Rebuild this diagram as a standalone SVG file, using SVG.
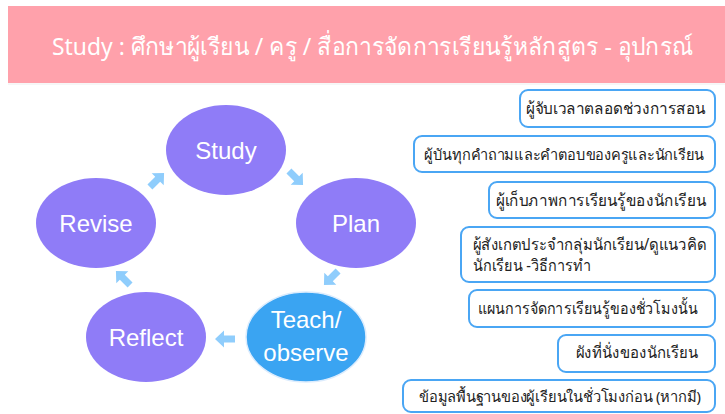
<svg xmlns="http://www.w3.org/2000/svg" width="725" height="414" viewBox="0 0 725 414">
<defs>
<style>
.hdr{fill:#ffa1ab}
.title{font-family:"Noto Sans","Liberation Sans",sans-serif;font-size:24px;fill:#ffffff}
.stage{fill:#8f7cf7}
.teach{fill:#3aa4f2;stroke:#dcecfd;stroke-width:1.5}
.lbl{font-family:"Liberation Sans",Arial,sans-serif;font-size:24px;fill:#ffffff;text-anchor:middle}
.box{fill:#ffffff;stroke:#4aa6f4;stroke-width:2}
.bt{font-family:"Noto Sans","DejaVu Sans",sans-serif;font-size:16px;fill:#222222;text-anchor:middle}
.bl{font-family:"Noto Sans","DejaVu Sans",sans-serif;font-size:16px;fill:#222222}
.sm{font-size:15px}
.arr{fill:#8fcdfc}
</style>
<path id="ar" d="M-10,-3.5 L1,-3.5 L1,-8.5 L10,0 L1,8.5 L1,3.5 L-10,3.5 Z"/>
</defs>
<rect class="hdr" x="8" y="6" width="717" height="77"/>
<line x1="8" y1="84" x2="725" y2="84" stroke="#eeeeee" stroke-width="1"/>
<text class="title" x="52" y="55" textLength="641" lengthAdjust="spacingAndGlyphs">Study : ศึกษาผู้เรียน / ครู / สื่อการจัดการเรียนรู้หลักสูตร - อุปกรณ์</text>

<g id="study"><ellipse class="stage" cx="226" cy="150" rx="60" ry="45"/><text class="lbl" x="226" y="159">Study</text></g>
<g id="plan"><ellipse class="stage" cx="356" cy="223" rx="60" ry="45"/><text class="lbl" x="356" y="232">Plan</text></g>
<g id="teach"><ellipse class="teach" cx="306" cy="337" rx="60" ry="45"/><text class="lbl" x="306" y="328">Teach/</text><text class="lbl" x="306" y="361">observe</text></g>
<g id="reflect"><ellipse class="stage" cx="146" cy="337" rx="60" ry="45"/><text class="lbl" x="146" y="346">Reflect</text></g>
<g id="revise"><ellipse class="stage" cx="96" cy="223" rx="60" ry="45"/><text class="lbl" x="96" y="232">Revise</text></g>

<g id="connectors" class="arr">
<use href="#ar" transform="translate(157,180) rotate(-45)"/>
<use href="#ar" transform="translate(296,178) rotate(45)"/>
<use href="#ar" transform="translate(331,278) rotate(135)"/>
<use href="#ar" transform="translate(225,339) rotate(180)"/>
<use href="#ar" transform="translate(123,278) rotate(-135)"/>
</g>

<g id="n1"><rect class="box" x="520" y="90" width="195" height="37" rx="8"/><text class="bt" x="616" y="114" textLength="180" lengthAdjust="spacingAndGlyphs">ผู้จับเวลาตลอดช่วงการสอน</text></g>
<g id="n2"><rect class="box" x="414" y="136" width="301" height="36" rx="8"/><text class="bt sm" x="564" y="160" textLength="280" lengthAdjust="spacingAndGlyphs">ผู้บันทุกคำถามและคำตอบของครูและนักเรียน</text></g>
<g id="n3"><rect class="box" x="489" y="182" width="226" height="36" rx="8"/><text class="bt" x="601" y="206" textLength="210" lengthAdjust="spacingAndGlyphs">ผู้เก็บภาพการเรียนรู้ของนักเรียน</text></g>
<g id="n4"><rect class="box" x="461" y="227" width="254" height="55" rx="8"/><text class="bl" x="473" y="250" textLength="233" lengthAdjust="spacingAndGlyphs">ผู้สังเกตประจำกลุ่มนักเรียน/ดูแนวคิด</text><text class="bl" x="473" y="271" textLength="118" lengthAdjust="spacingAndGlyphs">นักเรียน -วิธีการทำ</text></g>
<g id="n5"><rect class="box" x="469" y="290" width="246" height="37" rx="8"/><text class="bt" x="588" y="314" textLength="220" lengthAdjust="spacingAndGlyphs">แผนการจัดการเรียนรู้ของชั่วโมงนั้น</text></g>
<g id="n6"><rect class="box" x="558" y="335" width="157" height="37" rx="8"/><text class="bt" x="637" y="358" textLength="122" lengthAdjust="spacingAndGlyphs">ผังที่นั่งของนักเรียน</text></g>
<g id="n7"><rect class="box" x="403" y="380" width="312" height="32" rx="8"/><text class="bt sm" x="560" y="402" textLength="282" lengthAdjust="spacingAndGlyphs">ข้อมูลพื้นฐานของผู้เรียนในชั่วโมงก่อน (หากมี)</text></g>
</svg>
